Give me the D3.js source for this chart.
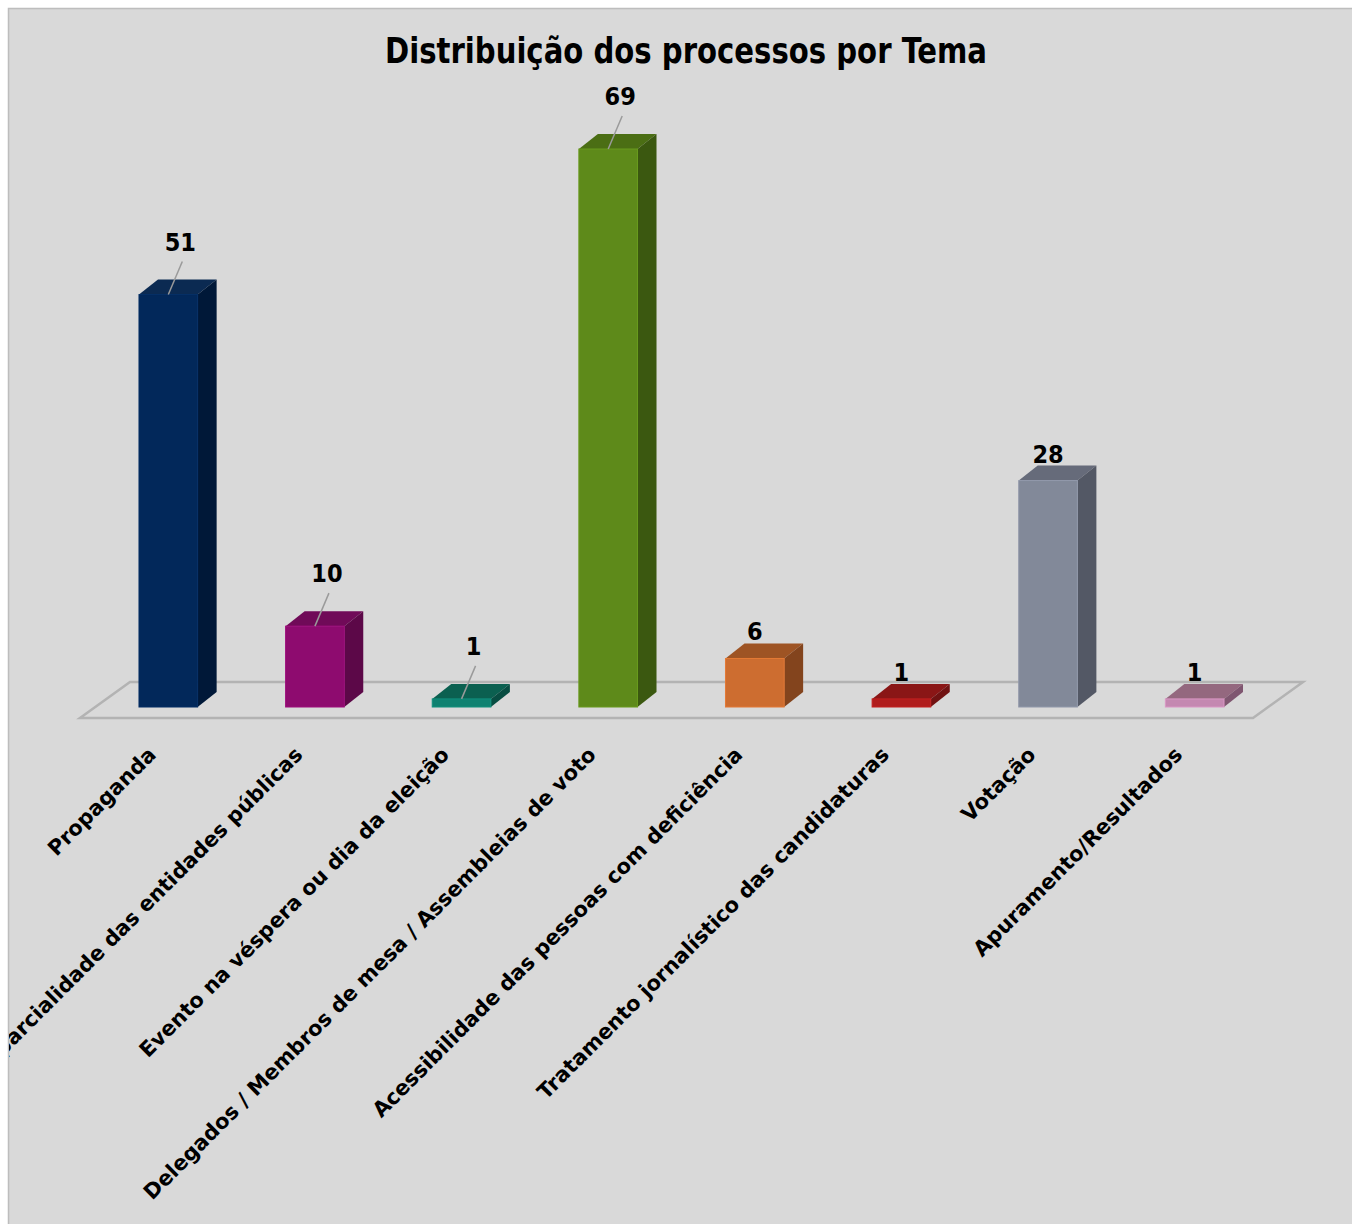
<!DOCTYPE html>
<html>
<head>
<meta charset="utf-8">
<script src="https://cdn.jsdelivr.net/npm/d3@7"></script>
<style>
  body { margin: 0; background: #fff; }
  svg { display: block; }
</style>
</head>
<body>
<svg id="chart"></svg>
<script>
const width = 1352;
const height = 1224;

const categories = [
    "Propaganda",
    "Imparcialidade das entidades públicas",
    "Evento na véspera ou dia da eleição",
    "Delegados / Membros de mesa / Assembleias de voto",
    "Acessibilidade das pessoas com deficiência",
    "Tratamento jornalístico das candidaturas",
    "Votação",
    "Apuramento/Resultados"
];
const values = [51, 10, 1, 69, 6, 1, 28, 1];

const frontColors = ["#02285a", "#8e0b6f", "#0e8170", "#5e8a1a", "#cd6d30", "#b01c1c", "#828999", "#c488b1"];
const topColors   = ["#0b2a52", "#700a58", "#0b6050", "#4b6e14", "#9e5424", "#8a1616", "#666b7a", "#94687f"];
const sideColors  = ["#001838", "#5c0848", "#084d42", "#3b5810", "#83441d", "#701212", "#535865", "#7f5670"];

// labels pulled up with a leader line (like excel did)
const withLeader = new Set([0, 1, 2, 3]);

const depthX = 19, depthY = -15;

const svg = d3.select("#chart")
    .attr("width", width)
    .attr("height", height);

svg.append("defs").append("clipPath").attr("id", "area")
    .append("rect").attr("x", 9).attr("y", 9).attr("width", width).attr("height", height);

svg.append("rect")
    .attr("x", 8.5).attr("y", 8.5)
    .attr("width", width + 20).attr("height", height + 20)
    .attr("fill", "#d9d9d9")
    .attr("stroke", "#bdbdbd")
    .attr("stroke-width", 1.5);

const g = svg.append("g").attr("clip-path", "url(#area)");

const x = d3.scaleBand()
    .domain(categories)
    .range([95, 1268])
    .paddingInner(0.6)
    .paddingOuter(0.3);

const y = d3.scaleLinear()
    .domain([0, 69])
    .range([707, 149]);

// floor
const y0 = y(0);
const floor = [
    [x.range()[0] - 15, y0 + 11],
    [x.range()[1] - 15, y0 + 11],
    [x.range()[1] + 35, y0 - 25],
    [x.range()[0] + 35, y0 - 25]
];
g.append("path")
    .attr("d", d3.line()(floor) + "Z")
    .attr("fill", "none")
    .attr("stroke", "#b3b3b3")
    .attr("stroke-width", 2.5);

const bars = g.selectAll(".bar")
    .data(values)
    .enter().append("g")
    .attr("class", "bar");

bars.append("path")
    .attr("d", (d, i) => {
        const x0 = x(categories[i]), x1 = x0 + x.bandwidth(), yt = y(d);
        return `M${x0},${yt}L${x0 + depthX},${yt + depthY}L${x1 + depthX},${yt + depthY}L${x1},${yt}Z`;
    })
    .attr("fill", (d, i) => topColors[i]);

bars.append("path")
    .attr("d", (d, i) => {
        const x1 = x(categories[i]) + x.bandwidth(), yt = y(d);
        return `M${x1},${yt}L${x1 + depthX},${yt + depthY}L${x1 + depthX},${y0 + depthY}L${x1},${y0}Z`;
    })
    .attr("fill", (d, i) => sideColors[i]);

bars.append("rect")
    .attr("x", (d, i) => x(categories[i]))
    .attr("y", d => y(d))
    .attr("width", x.bandwidth())
    .attr("height", d => y0 - y(d))
    .attr("fill", (d, i) => frontColors[i])
    .attr("stroke", (d, i) => d3.color(frontColors[i]).brighter(0.3))
    .attr("stroke-width", 1);

// value labels
const labelFont = "'Liberation Sans Narrow', 'DejaVu Sans Condensed', sans-serif";

bars.each(function (d, i) {
    const cx = x(categories[i]) + x.bandwidth() / 2;
    const backTop = y(d) + depthY;
    let lx = cx, ly = backTop - 3;
    if (withLeader.has(i)) {
        lx = cx + 12;
        ly = backTop - 29;
        d3.select(this).append("line")
            .attr("x1", lx + 2).attr("y1", ly + 11)
            .attr("x2", cx).attr("y2", y(d))
            .attr("stroke", "#9a9a9a")
            .attr("stroke-width", 1.5);
    }
    d3.select(this).append("text")
        .attr("x", lx).attr("y", ly)
        .attr("text-anchor", "middle")
        .style("font-family", labelFont)
        .style("font-weight", "bold")
        .style("font-size", "25px")
        .text(d);
});

// category labels
g.selectAll(".cat")
    .data(categories)
    .enter().append("text")
    .attr("class", "cat")
    .attr("text-anchor", "end")
    .attr("transform", d => `translate(${x(d) + x.bandwidth() / 2 - 11}, 756) rotate(-45)`)
    .style("font-family", "'DejaVu Sans', sans-serif")
    .style("font-weight", "bold")
    .style("font-size", "21px")
    .text(d => d);

svg.append("text")
    .attr("x", 686)
    .attr("y", 63)
    .attr("text-anchor", "middle")
    .attr("textLength", 602)
    .attr("lengthAdjust", "spacingAndGlyphs")
    .style("font-family", labelFont)
    .style("font-weight", "bold")
    .style("font-size", "35px")
    .text("Distribuição dos processos por Tema");
</script>
</body>
</html>
